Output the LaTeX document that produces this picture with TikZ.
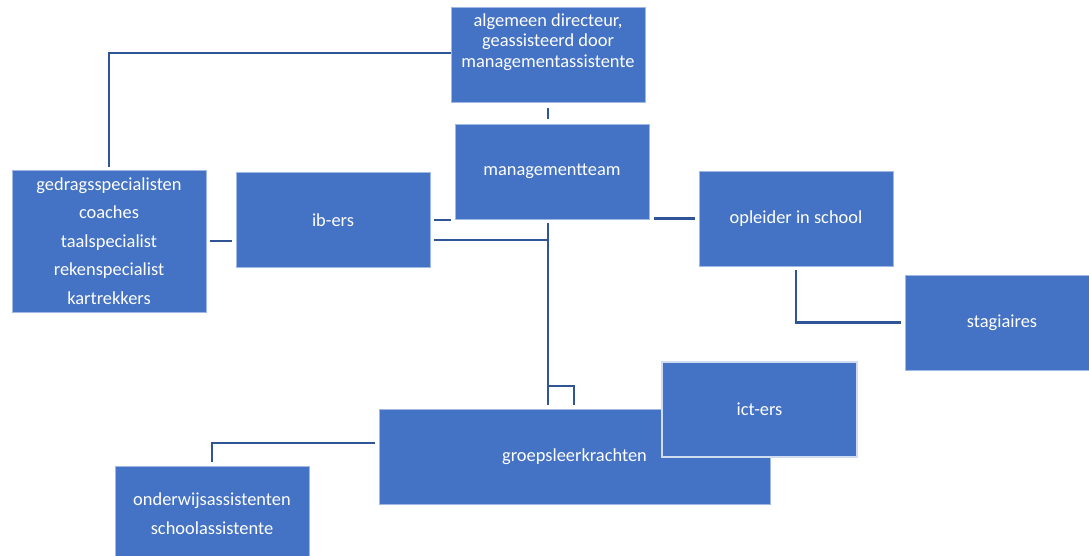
\documentclass[tikz,border=0pt]{standalone}
\usepackage{fontspec}
\setmainfont{Carlito}
\definecolor{boxblue}{RGB}{68,114,196}
\definecolor{boxedge}{RGB}{160,185,228}
\definecolor{linecol}{RGB}{47,85,151}
\begin{document}
\begin{tikzpicture}[x=1pt,y=-1pt,
  orgbox/.style={rectangle,fill=boxblue,draw=boxedge,line width=0.8pt,
    minimum width=194pt,minimum height=95pt,inner sep=0pt,
    text=white,align=center,font=\fontsize{18.4}{21}\selectfont},
  lbl/.style={text=white,align=center,inner sep=0pt},
  conn/.style={draw=linecol,line width=2.8pt},
  thinconn/.style={draw=linecol,line width=1.6pt}]
\useasboundingbox (0,0) rectangle (1089,556);
\clip (0,0) rectangle (1089,556);
% boxes
\node[orgbox] (top) at (548,55) {};
\node[lbl,font=\fontsize{18.4}{20.5}\selectfont] (toptxt) at (548,42) {algemeen directeur,\\geassisteerd door\\managementassistente};
\node[orgbox] (mt) at (552,171.5) {managementteam};
\node[orgbox,minimum height=142pt,font=\fontsize{18.4}{28.5}\selectfont] (left) at (109,241) {gedragsspecialisten\\coaches\\taalspecialist\\rekenspecialist\\kartrekkers};
\node[orgbox] (ib) at (333,220) {ib-ers};
\node[orgbox] (opl) at (796,218.5) {opleider in school};
\node[orgbox] (stag) at (1002,322.5) {stagiaires};
\node[orgbox,minimum width=391pt] (groep) at (574.5,456.5) {groepsleerkrachten};
\node[orgbox,draw=white!75!boxblue,line width=1.1pt,minimum width=195pt] (ict) at (759.5,409.5) {ict-ers};
\node[orgbox,font=\fontsize{18.4}{29}\selectfont] (onder) at (212,513.5) {onderwijsassistenten\\schoolassistente};
% junction coordinates
\coordinate (trtop) at (548,223);
\coordinate (trib) at (548,240);
\coordinate (trbr) at (548,386);
\coordinate (trbot) at (548,405);
\coordinate (brbot) at (574,405);
% connectors
\draw[thinconn] (top.west |- 0,53) -| ([yshift=3pt]left.north);
\draw[conn] ([yshift=-5pt]top.south) -- ([yshift=5pt]top.south |- mt.north);
\draw[conn] ([xshift=4pt]ib.east) -- ([xshift=-4pt]ib.east -| mt.west);
\draw[conn] ([xshift=4pt]ib.east |- trib) -- (trib);
\draw[conn] (trtop) -- (trbot);
\draw[conn] (trbr) -| (brbot);
\draw[conn] ([xshift=5pt]mt.east |- opl.west) -- ([xshift=-4pt]opl.west);
\draw[conn] ([xshift=4pt]left.east |- 0,241) -- ([xshift=-4pt]ib.west |- 0,241);
\draw[conn] ([yshift=-4pt]opl.south) |- ([xshift=-4pt]stag.west);
\draw[conn,line width=2.2pt] ([xshift=-4pt]groep.west |- 0,443) -| ([yshift=4pt]onder.north);
\end{tikzpicture}
\end{document}
